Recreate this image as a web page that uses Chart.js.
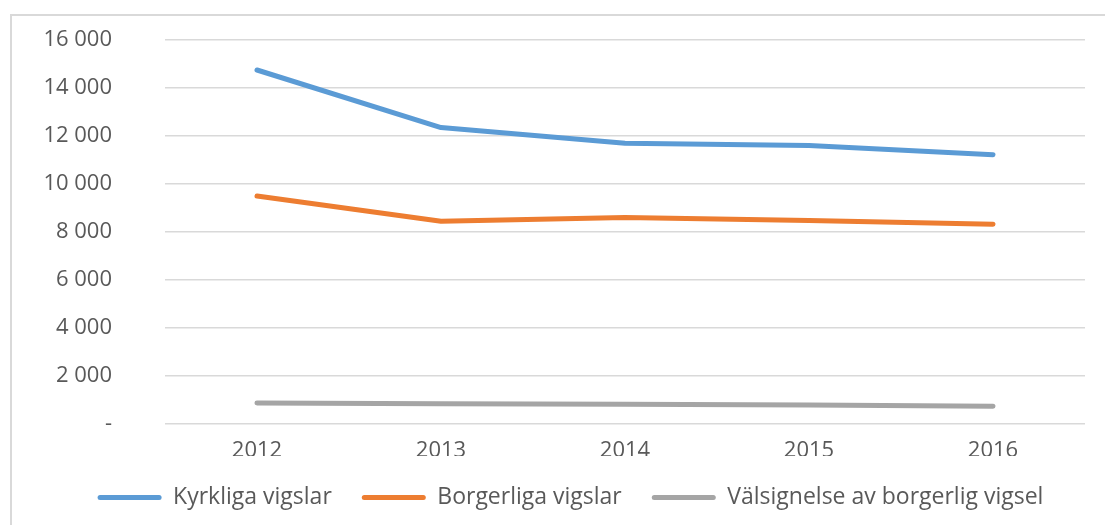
<!DOCTYPE html>
<html>
<head>
<meta charset="utf-8">
<script src="https://cdn.jsdelivr.net/npm/chart.js@4.4.0/dist/chart.umd.min.js"></script>
<style>
    html, body { margin: 0; padding: 0; background: #fff; }
    #wrap { position: relative; width: 1105px; height: 525px; }
    #frame {
        position: absolute; left: 10px; top: 14px; right: 0; bottom: 0;
        border-top: 2px solid #d9d9d9; border-left: 2px solid #d9d9d9;
        pointer-events: none;
    }
    canvas { position: absolute; left: 0; top: 0; }
</style>
</head>
<body>
<div id="wrap">
    <canvas id="chart" width="1105" height="525"></canvas>
    <div id="frame"></div>
</div>
<script>
/* ----------------------------------------------------------
   DATA
----------------------------------------------------------- */
const years = ["2012", "2013", "2014", "2015", "2016"];
const kyrkliga = [14750, 12350, 11700, 11600, 11220];
const borgerliga = [9500, 8450, 8600, 8480, 8320];
const valsignelse = [880, 840, 820, 790, 740];
const yTicks = [0, 2000, 4000, 6000, 8000, 10000, 12000, 14000, 16000];

const seriesNames = ["Kyrkliga vigslar", "Borgerliga vigslar", "Välsignelse av borgerlig vigsel"];
const seriesColors = ["#5b9bd5", "#ed7d31", "#a5a5a5"];

const FONT = { family: "'Open Sans', 'Liberation Sans', sans-serif", size: 22 };
const LEGEND_FONT = { family: "'Open Sans', 'Liberation Sans', sans-serif", size: 23 };
const TEXT = "#595959";

function fmt(v) {
    if (v === 0) return "-";
    return String(v).replace(/\B(?=(\d{3})+(?!\d))/g, " ");
}

function makeSet(i, values) {
    return {
        label: seriesNames[i],
        data: values,
        borderColor: seriesColors[i],
        backgroundColor: seriesColors[i],
        borderWidth: 5,
        borderCapStyle: "round",
        borderJoinStyle: "round",
        pointRadius: 0,
        tension: 0
    };
}

// legend sits a bit right of centre in the original
const legendShift = {
    id: "legendShift",
    afterLayout(chart) {
        chart.legend.left += 23;
        chart.legend.right += 23;
    }
};

new Chart(document.getElementById("chart"), {
    type: "line",
    data: {
        labels: years,
        datasets: [makeSet(0, kyrkliga), makeSet(1, borgerliga), makeSet(2, valsignelse)]
    },
    plugins: [legendShift],
    options: {
        responsive: false,
        animation: false,
        layout: { padding: { top: 40, right: 20, left: 10, bottom: 6 } },
        plugins: {
            tooltip: { enabled: false },
            legend: {
                position: "bottom",
                labels: {
                    font: LEGEND_FONT,
                    color: TEXT,
                    boxWidth: 64,
                    boxHeight: 5,
                    padding: 30,
                    useBorderRadius: true,
                    borderRadius: 2.5,
                    generateLabels: chart => chart.data.datasets.map((ds, i) => ({
                        text: ds.label,
                        fillStyle: ds.borderColor,
                        strokeStyle: ds.borderColor,
                        lineWidth: 0,
                        fontColor: TEXT,
                        borderRadius: 2.5,
                        datasetIndex: i
                    }))
                }
            }
        },
        scales: {
            x: {
                offset: true,
                grid: { display: false, drawTicks: false },
                border: { display: false },
                ticks: { font: FONT, color: TEXT, padding: 14, maxRotation: 0 },
                afterFit: s => { s.height = 32; }
            },
            y: {
                min: 0,
                max: 16000,
                afterBuildTicks: s => { s.ticks = yTicks.map(v => ({ value: v })); },
                grid: { color: "#d9d9d9", lineWidth: 1.5, drawTicks: false },
                border: { display: false },
                ticks: { font: FONT, color: TEXT, padding: 53, callback: v => fmt(v) },
                afterFit: s => { s.width = 155; s.paddingTop = 0; s.paddingBottom = 0; }
            }
        }
    }
});
</script>
</body>
</html>
